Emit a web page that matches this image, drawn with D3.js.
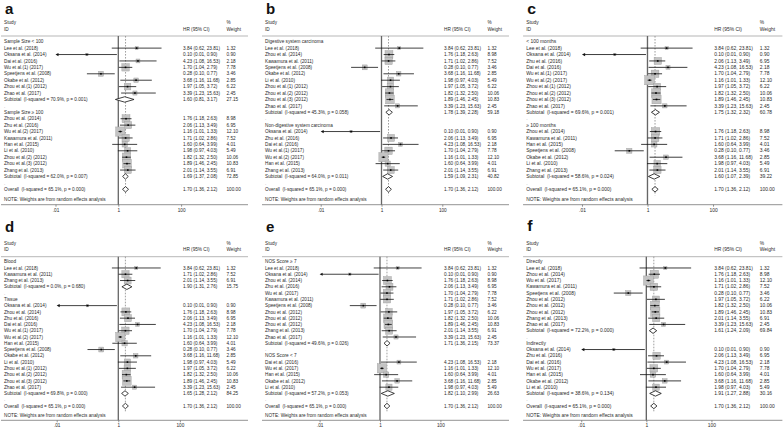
<!DOCTYPE html>
<meta charset="utf-8">
<script src="https://d3js.org/d3.v7.min.js"></script>
<style>
  body { margin: 0; background: #fff; }
  text { font-family: "Liberation Sans", Arial, sans-serif; fill: #2a2a2a; white-space: pre; }
</style>
<svg id="forest" width="784" height="430"></svg>
<script>

// study level results (HR, 95% CI, % weight)
var studyKeys = ["lee","oksana","dai","wu1","spe","okabe","zhou1","zhao","zhou14","zhu","wu2","kawamura","han","li","zhou2","zhou3","zhang"];
var studyLabels = ["Lee et al. (2018)","Oksana et al. (2014)","Dai et al. (2016)","Wu et al.(1) (2017)","Speetjens et al. (2008)","Okabe et al. (2012)","Zhou et al.(1) (2012)","Zhao et al. (2017)","Zhou et al. (2014)","Zhu et al. (2016)","Wu et al.(2) (2017)","Kawamura et al. (2011)","Han et al. (2015)","Li et al. (2010)","Zhou et al.(2) (2012)","Zhou et al.(3) (2012)","Zhang et al. (2013)"];
var plainLabels = ["Lee et al. (2018)","Oksana et al. (2014)","Dai et al. (2016)","Wu et al. (2017)","Speetjens et al. (2008)","Okabe et al. (2012)","Zhou et al. (2012)","Zhao et al. (2017)","Zhou et al. (2014)","Zhu et al. (2016)","Wu et al. (2017)","Kawamura et al. (2011)","Han et al. (2015)","Li et al. (2010)","Zhou et al. (2012)","Zhou et al. (2012)","Zhang et al. (2013)"];
var hr      = [3.84, 0.10, 4.23, 1.70, 0.28, 3.68, 1.97, 3.39, 1.76, 2.06, 1.16, 1.71, 1.60, 1.98, 1.82, 1.89, 2.01];
var ciLow   = [0.62, 0.01, 1.08, 1.04, 0.10, 1.16, 1.05, 1.23, 1.18, 1.13, 1.01, 1.02, 0.64, 0.97, 1.32, 1.46, 1.14];
var ciHigh  = [23.81, 0.90, 16.53, 2.79, 0.77, 11.68, 3.72, 15.63, 2.63, 3.49, 1.33, 2.86, 3.99, 4.03, 2.50, 2.45, 3.55];
var weights = [1.32, 0.90, 2.18, 7.78, 3.46, 2.85, 6.22, 2.45, 8.98, 6.95, 12.10, 7.52, 4.01, 5.49, 10.06, 10.83, 6.91];

// subgroup analyses, one entry per panel
var panelLetters = ["a","b","c","d","e","f"];
var groupTitles = [
  ["Sample Size < 100", "Sample Size \u2265 100"],
  ["Digestive system carcinoma", "Non-digestive system carcinoma"],
  ["< 100 months", "\u2265 100 months"],
  ["Blood", "Tissue"],
  ["NOS Score \u2265 7", "NOS Score < 7"],
  ["Directly", "Indirectly"]
];
var groupMembers = [
  [["lee","oksana","dai","wu1","spe","okabe","zhou1","zhao"], ["zhou14","zhu","wu2","kawamura","han","li","zhou2","zhou3","zhang"]],
  [["lee","zhou14","kawamura","spe","okabe","li","zhou1","zhou2","zhou3","zhao"], ["oksana","zhu","dai","wu1","wu2","han","zhang"]],
  [["lee","oksana","zhu","dai","wu1","wu2","zhou1","zhou2","zhou3","zhao"], ["zhou14","kawamura","han","spe","okabe","li","zhang"]],
  [["lee","kawamura","zhang"], ["oksana","zhou14","zhu","dai","wu1","wu2","han","spe","okabe","li","zhou1","zhou2","zhou3","zhao"]],
  [["lee","oksana","zhou14","zhu","wu1","kawamura","spe","zhou1","zhou2","zhou3","zhang","zhao"], ["dai","wu2","han","okabe","li"]],
  [["lee","zhou14","wu2","kawamura","spe","zhou1","zhou2","zhou3","zhang","zhao"], ["oksana","zhu","dai","wu1","han","okabe","li"]]
];
var numberedLabels = [true, true, true, true, false, false];
var subHR     = [[1.60, 1.69], [1.78, 1.59], [1.75, 1.60], [1.90, 1.65], [1.71, 1.82], [1.61, 1.91]];
var subLow    = [[0.81, 1.37], [1.39, 1.09], [1.32, 1.07], [1.31, 1.28], [1.36, 1.10], [1.24, 1.27]];
var subHigh   = [[3.17, 2.08], [2.28, 2.31], [2.32, 2.39], [2.76, 2.12], [2.15, 2.99], [2.09, 2.88]];
var subWeight = [[27.15, 72.85], [59.18, 40.82], [60.78, 39.22], [15.75, 84.25], [73.37, 26.63], [69.84, 30.16]];
var subI2     = [[70.9, 62.0], [45.3, 64.0], [69.6, 58.6], [0.0, 69.8], [49.6, 57.2], [72.2, 38.6]];
var subP      = [[0.001, 0.007], [0.058, 0.011], [0.001, 0.024], [0.680, 0.000], [0.026, 0.053], [0.000, 0.134]];

// pooled result
var overallHR = 1.70, overallLow = 1.36, overallHigh = 2.12, overallI2 = 65.1, overallP = 0.000;

// x axis
var xTicks = [0.01, 1, 100];
var xTickLabels = [".01", "1", "100"];

// layout
var svg = d3.select("#forest");
var panelX = [0, 261, 522, 0, 261, 522];
var panelScale = [1, 1, 1.05, 1, 1, 1.05];
var nullX = [118.3, 120.5, 119.5, 118.3, 119, 118.4];
var decadeW = [31.4, 30.4, 31.2, 30.8, 30.2, 31];
var rowLayout = [
  {letter: 13.5, study: 22.7, id: 29, sep: 36, first: 41.7, last: 189.3, note: 199.3, axis: 204.7},
  {letter: 231.5, study: 243.3, id: 249.3, sep: 256.7, first: 261.7, last: 406, note: 415, axis: 420.3}
];
var fs = 4.7, hrX = 183, wX = 226.5, lineEnd = 248;

var fmt2 = d3.format(".2f");
function ciText(e, l, h) { return fmt2(e) + " (" + fmt2(l) + ", " + fmt2(h) + ")"; }

function drawPanel(p) {
  var L = rowLayout[p < 3 ? 0 : 1];
  var g = svg.append("g")
      .attr("transform", "translate(" + panelX[p] + ",0) scale(" + panelScale[p] + ",1)");

  var x = d3.scaleLog()
      .domain([0.01, 100])
      .range([nullX[p] - 2 * decadeW[p], nullX[p] + 2 * decadeW[p]]);

  // build the list of rows
  var rows = [];
  groupTitles[p].forEach(function(title, k) {
    rows.push({type: "head", label: title});
    groupMembers[p][k].forEach(function(key) {
      var i = studyKeys.indexOf(key);
      rows.push({type: "study", label: numberedLabels[p] ? studyLabels[i] : plainLabels[i],
                 e: hr[i], l: ciLow[i], h: ciHigh[i], w: weights[i]});
    });
    rows.push({type: "pool", label: "Subtotal  (I-squared = " + subI2[p][k].toFixed(1) + "%, p = " + subP[p][k].toFixed(3) + ")",
               e: subHR[p][k], l: subLow[p][k], h: subHigh[p][k], w: subWeight[p][k]});
    rows.push({type: "blank", label: "."});
  });
  rows.push({type: "pool", label: "Overall  (I-squared = " + overallI2.toFixed(1) + "%, p = " + overallP.toFixed(3) + ")",
             e: overallHR, l: overallLow, h: overallHigh, w: 100});

  var y = d3.scaleLinear().domain([0, rows.length - 1]).range([L.first, L.last]);

  // panel letter
  g.append("text").attr("x", 5).attr("y", L.letter)
      .style("font-size", "15px").style("font-weight", "bold").style("fill", "#111")
      .text(panelLetters[p]);

  // column headers
  var hdr = [["Study", 4, L.study], ["ID", 4, L.id], ["HR (95% CI)", hrX, L.id], ["%", wX, L.study], ["Weight", wX, L.id]];
  g.selectAll(".hdr").data(hdr).enter().append("text")
      .attr("x", function(d) { return d[1]; })
      .attr("y", function(d) { return d[2]; })
      .attr("dy", "0.35em")
      .style("font-size", fs + "px")
      .text(function(d) { return d[0]; });

  g.append("line").attr("x1", 1).attr("x2", lineEnd).attr("y1", L.sep).attr("y2", L.sep)
      .attr("stroke", "#999").attr("stroke-width", 0.7);

  // reference lines
  g.append("line").attr("x1", x(1)).attr("x2", x(1)).attr("y1", L.sep).attr("y2", L.axis)
      .attr("stroke", "#666").attr("stroke-width", 1.3);
  g.append("line").attr("x1", x(overallHR)).attr("x2", x(overallHR)).attr("y1", L.sep).attr("y2", L.last + 6)
      .attr("stroke", "#888").attr("stroke-width", 0.8).attr("stroke-dasharray", "1.6,1.4");

  // row labels and numbers
  var r = g.selectAll(".row").data(rows).enter().append("g")
      .attr("transform", function(d, i) { return "translate(0," + y(i) + ")"; });
  r.append("text").attr("x", 4).attr("dy", "0.35em").style("font-size", fs + "px")
      .style("fill", function(d) { return d.type === "blank" ? "#999" : null; })
      .text(function(d) { return d.label; });
  r.filter(function(d) { return d.e; }).append("text")
      .attr("x", hrX).attr("dy", "0.35em").style("font-size", fs + "px")
      .text(function(d) { return ciText(d.e, d.l, d.h); });
  r.filter(function(d) { return d.e; }).append("text")
      .attr("x", wX).attr("dy", "0.35em").style("font-size", fs + "px")
      .text(function(d) { return fmt2(d.w); });

  // study boxes, CIs and point estimates
  var s = r.filter(function(d) { return d.type === "study"; });
  s.append("rect")
      .attr("x", function(d) { return x(d.e) - 4.6 * Math.sqrt(d.w / 12.1); })
      .attr("y", function(d) { return -4.6 * Math.sqrt(d.w / 12.1); })
      .attr("width", function(d) { return 9.2 * Math.sqrt(d.w / 12.1); })
      .attr("height", function(d) { return 9.2 * Math.sqrt(d.w / 12.1); })
      .attr("fill", "#c3c3c3").attr("stroke", "#9a9a9a").attr("stroke-width", 0.4);
  s.append("line")
      .attr("x1", function(d) { return x(Math.max(d.l, 0.01)) + (d.l <= 0.01 ? 2 : 0); })
      .attr("x2", function(d) { return x(d.h); })
      .attr("stroke", "#111").attr("stroke-width", 0.8);
  s.filter(function(d) { return d.l <= 0.01; }).append("path")
      .attr("d", function(d) { var x0 = x(0.01); return "M" + x0 + ",0L" + (x0 + 3) + ",-1.6L" + (x0 + 3) + ",1.6Z"; })
      .attr("fill", "#111");
  s.append("rect")
      .attr("x", function(d) { return x(d.e) - 0.8; })
      .attr("y", -0.8).attr("width", 1.6).attr("height", 1.6)
      .attr("fill", "#000");

  // pooled diamonds
  r.filter(function(d) { return d.type === "pool"; }).append("path")
      .attr("d", function(d) {
        return "M" + x(d.l) + ",0L" + x(d.e) + ",-2.7L" + x(d.h) + ",0L" + x(d.e) + ",2.7Z";
      })
      .attr("fill", "#fff").attr("stroke", "#111").attr("stroke-width", 0.8);

  // note and axis
  g.append("text").attr("x", 4).attr("y", L.note).attr("dy", "0.35em").style("font-size", fs + "px")
      .text("NOTE: Weights are from random effects analysis");
  g.append("line").attr("x1", 1).attr("x2", lineEnd).attr("y1", L.axis).attr("y2", L.axis)
      .attr("stroke", "#666").attr("stroke-width", 0.7);
  var ax = g.append("g").attr("transform", "translate(0," + L.axis + ")")
      .call(d3.axisBottom(x).tickValues(xTicks).tickSize(2)
        .tickFormat(function(d, i) { return xTickLabels[i]; }));
  ax.select(".domain").remove();
  ax.selectAll("line").attr("stroke", "#666").attr("stroke-width", 0.7);
  ax.selectAll("text").attr("y", 3.5).style("font-size", fs + "px").style("font-family", null).attr("fill", "#2a2a2a");
}

for (var p = 0; p < 6; p++) drawPanel(p);

</script>
